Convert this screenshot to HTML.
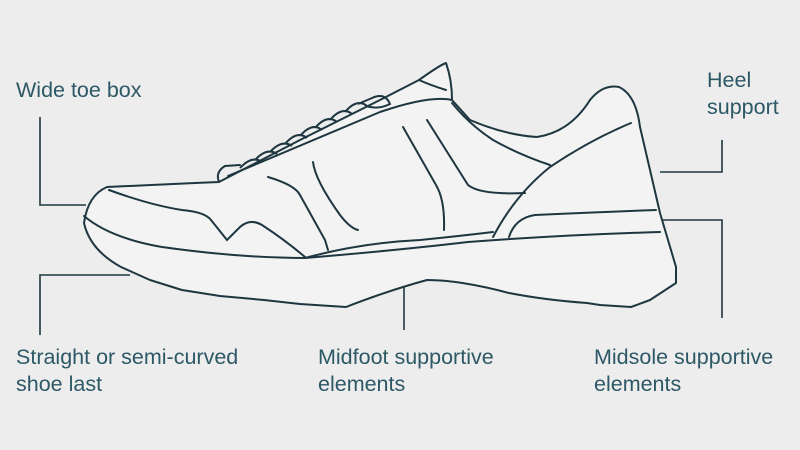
<!DOCTYPE html>
<html><head><style>
html,body{margin:0;padding:0;width:800px;height:450px;overflow:hidden;background:#ededed}
svg{position:absolute;left:0;top:0}
.t{font-family:"Liberation Sans",Arial,sans-serif;font-size:21.5px;fill:#2d5866}
</style></head><body>
<svg width="800" height="450" viewBox="0 0 800 450">
<rect width="800" height="450" fill="#ededed"/>
<g fill="none" stroke="#1e3640" stroke-width="1.6">
<polyline points="40,117 40,205 86,205"/>
<polyline points="40,335 40,275 130,275"/>
<polyline points="722,140 722,172 660,172"/>
<polyline points="660,220 722,220 722,318"/>
<line x1="404" y1="190" x2="404" y2="330"/>
</g>
<g stroke="#1e3640" stroke-width="2" fill="#f3f3f3" stroke-linejoin="round">
<path d="M107,187 L195,183 L219,182 L300,140 L380,100 L419,80 Q440,65 446,63 Q452,80 452,100 L470,120 Q505,135 537,137 Q570,132 590,100 Q603,84 619,87 Q636,95 640,127 L660,213 L676,267 L676,283 L650,300 L631,307 L600,305 L587,303 Q545,300 509,293 Q460,280 427,280 Q390,290 346,307 L300,304 L264,300 L220,296 L182,290 L150,280 L121,267 Q90,250 84,223 Q88,195 107,187 Z"/>
</g>
<g fill="none" stroke="#1e3640" stroke-width="2" stroke-linecap="round">
<path d="M84,216 Q110,238 162,247 Q240,258 305,258 Q400,250 468,242 Q560,235 660,232"/>
<path d="M305,258 Q360,243 420,240 Q460,236 493,232"/>
<path d="M493,237 Q515,195 550,167 Q590,140 631,123"/>
<path d="M509,237 Q515,218 535,215 Q600,212 656,210"/>
<path d="M109,190 Q150,205 182,210 Q205,212 211,220 L227,240 L240,227 Q250,218 262,225 Q285,240 305,257"/>
<path d="M268,177 Q295,185 300,195 L325,240 L328,250"/>
<path d="M313,162 Q315,180 340,215 Q350,228 358,230"/>
<path d="M403,127 L436,185 Q445,200 444,230"/>
<path d="M427,120 L468,185 Q480,195 525,193"/>
<path d="M452,103 Q470,125 493,140 Q520,155 550,165"/>
<path d="M219,182 Q215,172 225,166 L240,165"/>
<path d="M228,176 Q290,150 380,112 Q430,95 452,100"/>
<path d="M419,80 Q430,85 446,90"/>
</g>
<g fill="none" stroke="#1e3640" stroke-width="2">
<path d="M240,168 Q252,155 262,162 M255,160 Q267,147 277,154 M270,152 Q282,139 292,146 M285,144 Q297,130 307,138 M300,136 Q312,122 322,130 M315,128 Q327,114 337,122 M330,120 Q342,106 352,114 M345,112 Q357,98 367,106 M358,104 L372,98 Q385,92 390,104 Q378,110 366,106"/>
</g>
<text class="t" x="16" y="97">Wide toe box</text>
<text class="t" x="707" y="87">Heel</text>
<text class="t" x="707" y="114">support</text>
<text class="t" x="16" y="364">Straight or semi-curved</text>
<text class="t" x="16" y="391">shoe last</text>
<text class="t" x="318" y="364">Midfoot supportive</text>
<text class="t" x="318" y="391">elements</text>
<text class="t" x="594" y="364">Midsole supportive</text>
<text class="t" x="594" y="391">elements</text>
</svg>
</body></html>
